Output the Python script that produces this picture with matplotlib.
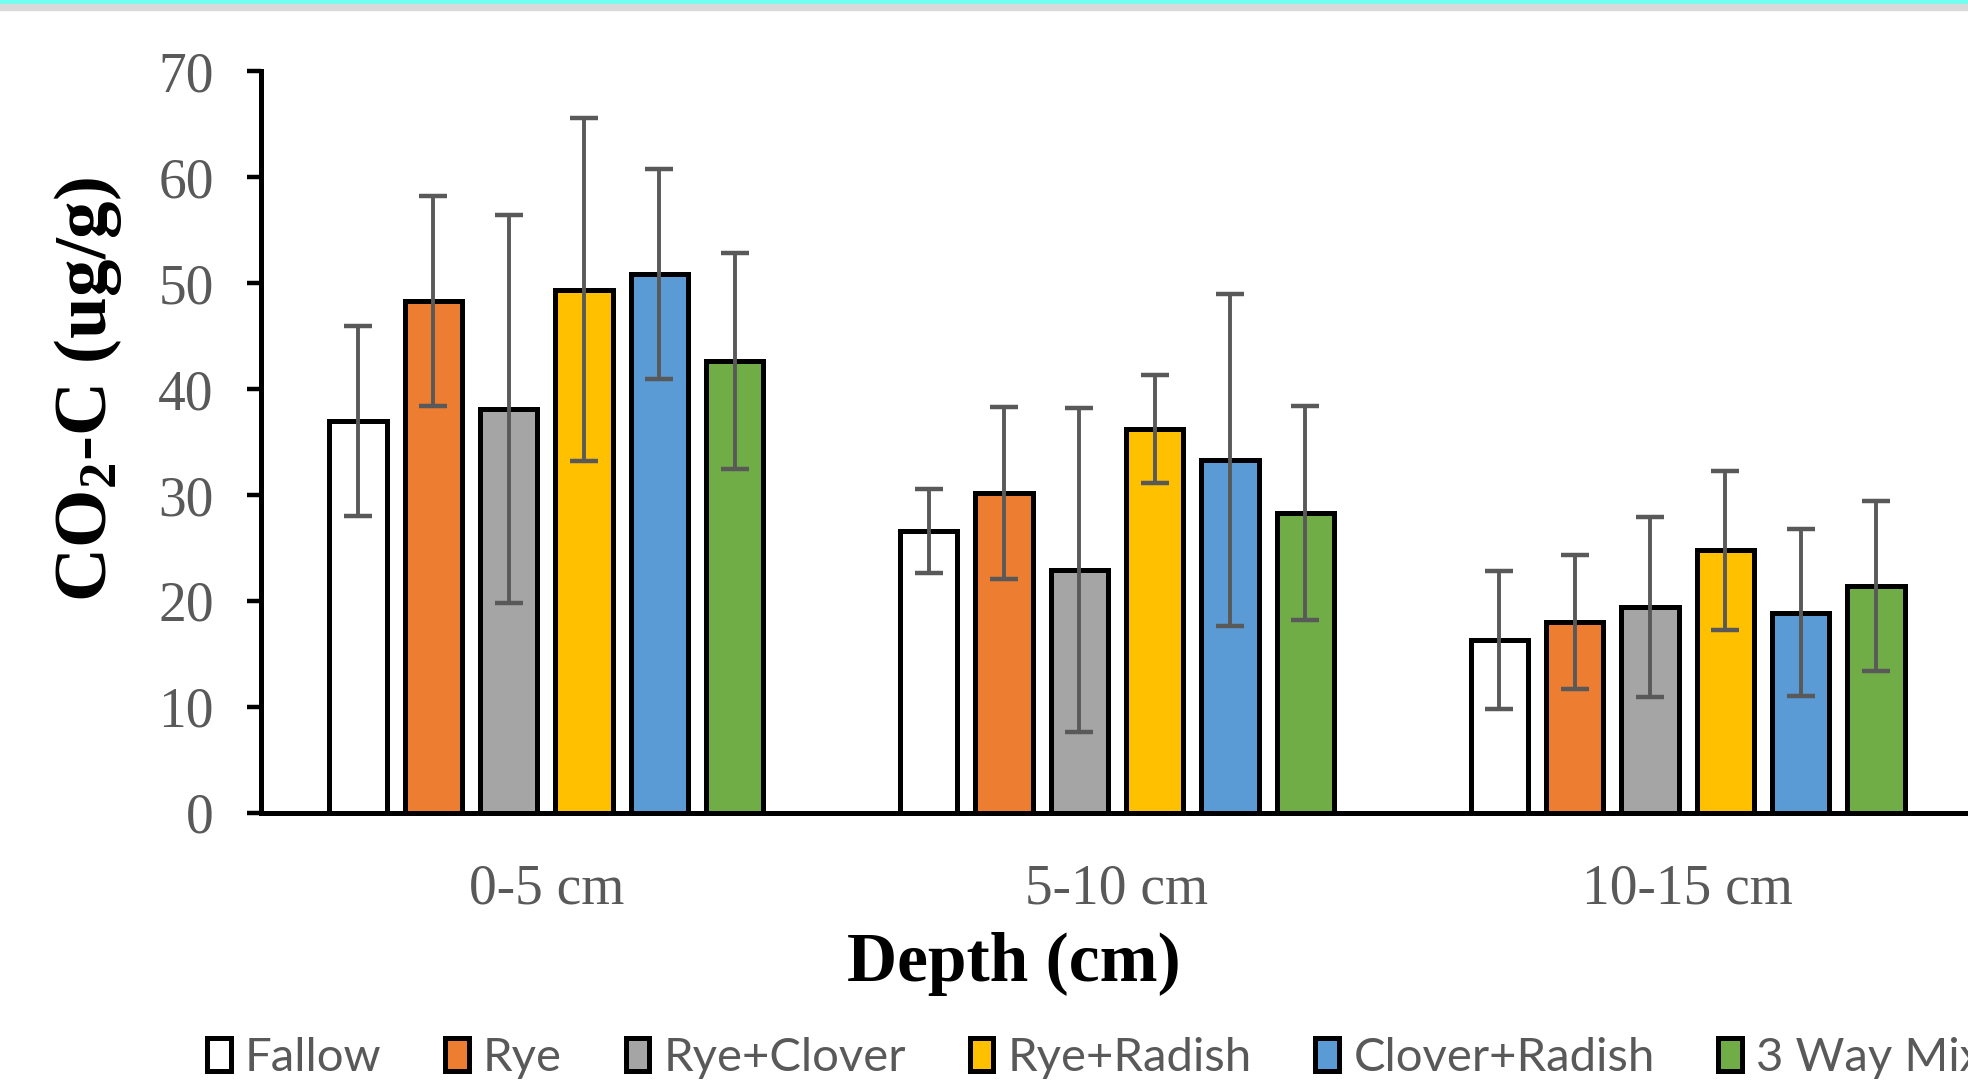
import matplotlib
matplotlib.use('Agg')
import numpy as np
import matplotlib.pyplot as plt
from matplotlib.patches import Rectangle

# data
depths = ['0-5 cm', '5-10 cm', '10-15 cm']
treatments = ['Fallow', 'Rye', 'Rye+Clover', 'Rye+Radish', 'Clover+Radish', '3 Way Mix']
colors = ['#FFFFFF', '#ED7D31', '#A5A5A5', '#FFC000', '#5B9BD5', '#70AD47']

fallow = [37.0, 26.6, 16.3]
rye = [48.3, 30.2, 18.0]
rye_clover = [38.1, 22.9, 19.4]
rye_radish = [49.4, 36.2, 24.8]
clover_radish = [50.9, 33.3, 18.9]
three_way = [42.7, 28.3, 21.4]

fallow_err = [9.0, 4.0, 6.5]
rye_err = [9.9, 8.1, 6.3]
rye_clover_err = [18.3, 15.3, 8.5]
rye_radish_err = [16.2, 5.1, 7.5]
clover_radish_err = [9.9, 15.7, 7.9]
three_way_err = [10.2, 10.1, 8.0]

valores = [fallow, rye, rye_clover, rye_radish, clover_radish, three_way]
erros = [fallow_err, rye_err, rye_clover_err, rye_radish_err, clover_radish_err, three_way_err]

plt.rcParams['mathtext.fontset'] = 'custom'
plt.rcParams['mathtext.rm'] = 'Liberation Serif:bold'
plt.rcParams['mathtext.default'] = 'rm'

cinza = '#595959'
serif = 'Liberation Serif'

figura = plt.figure(figsize=(19.68, 10.81), dpi=100)
ax = figura.add_axes([0.1326, 0.2482, 0.8700, 0.6857])

# faixa no topo
figura.patches.append(Rectangle((0, 1 - 4/1081), 1, 4/1081, transform=figura.transFigure,
                                color='#70FFF0', zorder=0))
figura.patches.append(Rectangle((0, 1 - 10/1081), 1, 6/1081, transform=figura.transFigure,
                                color='#D9D9D9', zorder=0))

x = np.arange(len(depths))
passo = 0.132
largura = 0.1005
for i in range(len(treatments)):
    pos = x + (i - 2.5) * passo
    ax.bar(pos, valores[i], width=largura, color=colors[i], edgecolor='black',
           linewidth=3.6, label=treatments[i], zorder=2)
    ax.errorbar(pos, valores[i], yerr=erros[i], fmt='none', ecolor=cinza,
                elinewidth=2.8, capsize=10, capthick=3.2, zorder=3)

ax.set_xlim(-0.5, 2.5)
ax.set_ylim(0, 70)
ax.set_yticks(range(0, 71, 10))
ax.set_xticks(x)
ax.set_xticklabels(depths)

for s in ['top', 'right']:
    ax.spines[s].set_visible(False)
for s in ['left', 'bottom']:
    ax.spines[s].set_linewidth(3.6)
    ax.spines[s].set_zorder(4)

ax.tick_params(axis='y', length=10, width=3.2, direction='out', pad=24,
               labelsize=40, labelcolor=cinza)
ax.tick_params(axis='x', length=0, pad=36.5, labelsize=40, labelcolor=cinza)
for t in ax.get_xticklabels() + ax.get_yticklabels():
    t.set_fontfamily(serif)

ax.set_ylabel(r'CO$_2$-C (ug/g)', fontsize=54, fontweight='bold', family=serif)
ax.yaxis.set_label_coords(-0.101, 0.571)
ax.yaxis.label.set_va('center')
ax.set_xlabel('Depth (cm)', fontsize=50, fontweight='bold', family=serif)
ax.xaxis.set_label_coords(0.4395, -0.204)
ax.xaxis.label.set_va('center')

ax.legend(ncol=6, loc='center left', bbox_to_anchor=(207/1968, 0.021),
          bbox_transform=figura.transFigure, frameon=False,
          handlelength=0.5, handleheight=0.7, handletextpad=0.3,
          columnspacing=1.35, borderpad=0, borderaxespad=0,
          prop={'family': 'Lato', 'size': 34}, labelcolor=cinza)

figura.savefig('out.png', dpi=100)
